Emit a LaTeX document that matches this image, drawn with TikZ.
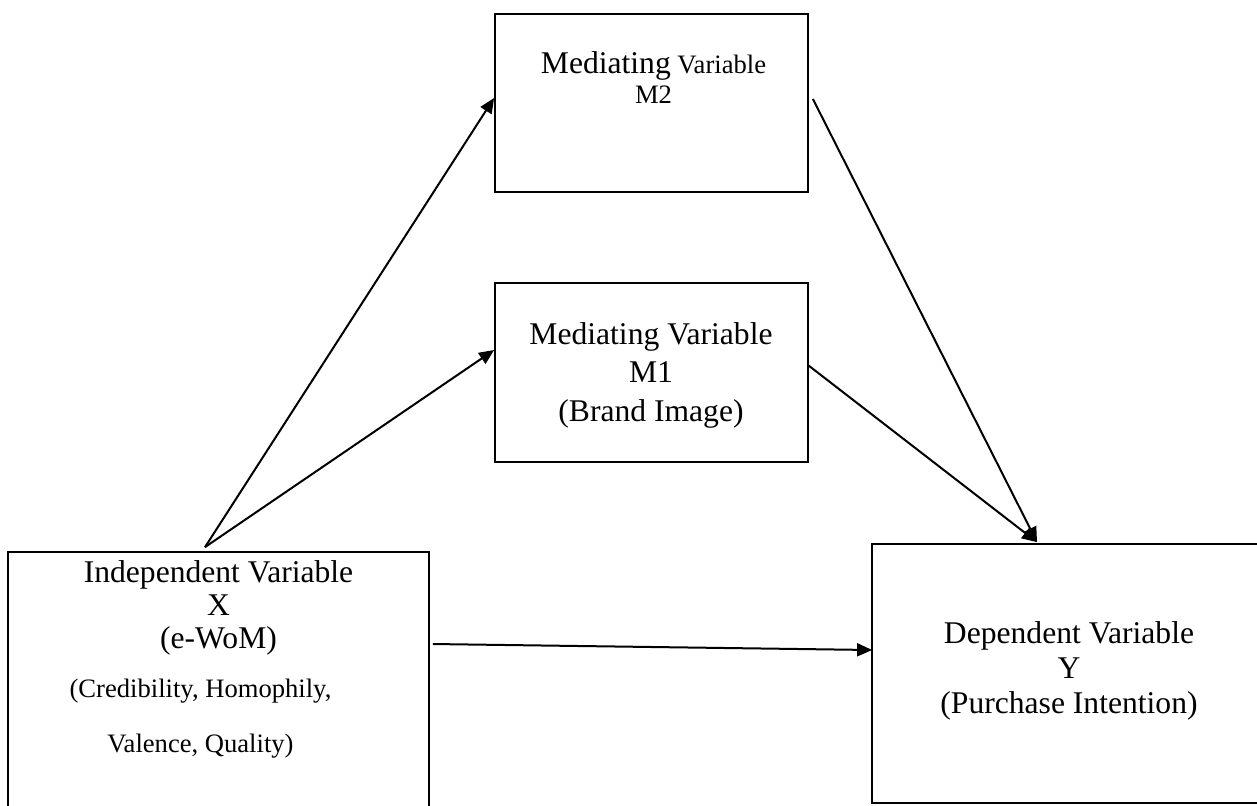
\documentclass[tikz,border=0pt]{standalone}
\usepackage{fontspec}
\setmainfont{Liberation Serif}
\usetikzlibrary{positioning,calc,arrows.meta}

\begin{document}
\begin{tikzpicture}[
    x=0.5pt, y=-0.5pt,
    box/.style={draw, line width=0.9pt, inner sep=0pt},
    bigtxt/.style={align=center, anchor=base, inner sep=0pt, font=\fontsize{15.8}{17.5}\selectfont},
    smalltxt/.style={align=center, anchor=base, inner sep=0pt, font=\fontsize{13.3}{15}\selectfont},
    arr/.style={-{Triangle[length=7.5pt,width=6.5pt]}, line width=1pt}
]
    \useasboundingbox (0,0) rectangle (1257,805);

    % Boxes
    \node[box, minimum width=156.5pt, minimum height=89pt] (m2) at (651.5,103) {};
    \node[box, minimum width=156.5pt, minimum height=89.5pt] (m1) at (651.5,372.5) {};
    \node[box, minimum width=210.5pt, minimum height=139pt] (xbox) at (218.5,691) {};
    \node[box, minimum width=197pt, minimum height=129.5pt] (ybox) at (1069,673.5) {};

    % Texts (base = last line)
    \node[smalltxt] (m2text) at (653.5,103) {{\fontsize{15.8}{15}\selectfont Mediating} Variable\\M2};
    \node[bigtxt, font=\fontsize{15.8}{19.25}\selectfont] (m1text) at (651,421) {Mediating Variable\\M1\\(Brand Image)};
    \node[bigtxt, font=\fontsize{15.8}{16.5}\selectfont] (xtext) at (218.5,648) {Independent Variable\\X\\(e-WoM)};
    \node[smalltxt, font=\fontsize{13.3}{27.5}\selectfont] (xsub) at (200.5,752) {(Credibility, Homophily,\\Valence, Quality)};
    \node[bigtxt] (ytext) at (1069,713) {Dependent Variable\\Y\\(Purchase Intention)};

    % Connector ends
    \coordinate (xtop) at ($(xbox.north)+(-13.5,-4)$);
    \coordinate (m2in) at ($(m2.west)+(0,-5)$);
    \coordinate (m1in) at ($(m1.west)+(0,-22.5)$);
    \coordinate (m2out) at ($(m2.east)+(4,-4)$);
    \coordinate (m1out) at ($(m1.east)+(-1,-7.5)$);
    \coordinate (ytop) at ($(ybox.north)+(-32,-1)$);
    \coordinate (xout) at ($(xbox.east)+(3,-47)$);
    \coordinate (yin) at ($(ybox.west)+(1,-23.5)$);

    % Paths
    \draw[arr] (xtop) -- (m2in);
    \draw[arr] (xtop) -- (m1in);
    \draw[arr] (m2out) -- (ytop);
    \draw[arr] (m1out) -- (ytop);
    \draw[arr] (xout) -- (yin);
\end{tikzpicture}
\end{document}
